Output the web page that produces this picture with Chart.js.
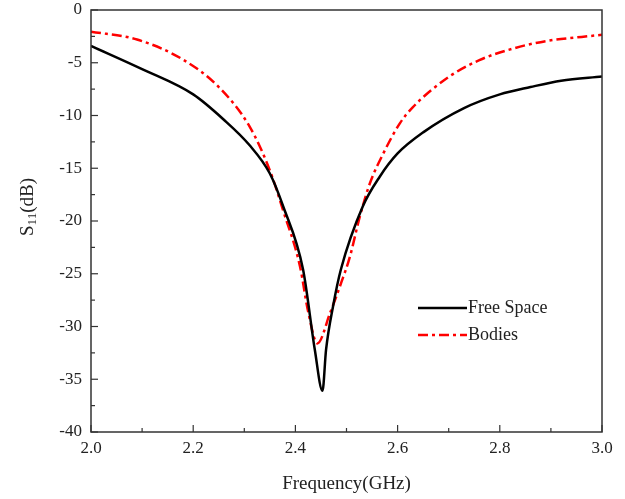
<!DOCTYPE html>
<html>
<head>
<meta charset="utf-8">
<script src="https://cdn.jsdelivr.net/npm/chart.js@4"></script>
<style>
  html, body { margin: 0; padding: 0; background: #fff; }
  #wrap { width: 625px; height: 499px; }
</style>
</head>
<body>
<div id="wrap"><canvas id="myChart" width="625" height="499"></canvas></div>
<script>
// values
const freeFreq = [2.00, 2.10, 2.20, 2.26, 2.31, 2.35, 2.376, 2.415, 2.438, 2.453, 2.46, 2.474, 2.489, 2.532, 2.565, 2.60, 2.65, 2.73, 2.80, 2.86, 2.92, 3.00];
const freeS11  = [-3.4, -5.6, -8.0, -10.4, -12.8, -15.5, -18.6, -24.6, -32.2, -36.1, -32.2, -28.0, -24.6, -18.6, -15.8, -13.6, -11.6, -9.3, -8.0, -7.3, -6.7, -6.3];

const bodyFreq = [2.00, 2.09, 2.18, 2.25, 2.311, 2.35, 2.376, 2.409, 2.425, 2.443, 2.468, 2.49, 2.506, 2.526, 2.546, 2.572, 2.605, 2.63, 2.70, 2.76, 2.83, 2.89, 2.96, 3.00];
const bodyS11  = [-2.05, -2.8, -4.7, -7.3, -11.1, -15.2, -19.0, -24.3, -28.6, -31.6, -28.7, -25.8, -23.5, -19.6, -16.4, -13.6, -10.7, -9.2, -6.35, -4.75, -3.6, -2.95, -2.55, -2.35];

const seriesNames = ['Free Space', 'Bodies'];
const xTicks = [2.0, 2.2, 2.4, 2.6, 2.8, 3.0];
const yTicks = [0, -5, -10, -15, -20, -25, -30, -35, -40];

const serif = '"Liberation Serif", "Times New Roman", serif';
const axisColor = '#333';

function toPoints(xs, ys) {
    return xs.map((x, i) => ({ x: x, y: ys[i] }));
}

// frame, inward ticks, y title with subscript, legend inside the plot
const decorations = {
    id: 'decorations',
    afterDraw(chart) {
        const ctx = chart.ctx;
        const area = chart.chartArea;
        const xs = chart.scales.x;
        const ys = chart.scales.y;
        ctx.save();
        ctx.strokeStyle = axisColor;
        ctx.lineWidth = 1.5;
        ctx.strokeRect(area.left, area.top, area.right - area.left, area.bottom - area.top);

        ctx.lineWidth = 1.2;
        for (let v = 2.0; v <= 3.0001; v += 0.1) {
            const px = xs.getPixelForValue(v);
            const major = Math.abs(v * 5 - Math.round(v * 5)) < 1e-6;
            ctx.beginPath();
            ctx.moveTo(px, area.bottom);
            ctx.lineTo(px, area.bottom - (major ? 7 : 4));
            ctx.stroke();
        }
        for (let v = 0; v >= -40; v -= 2.5) {
            const py = ys.getPixelForValue(v);
            const major = v % 5 === 0;
            ctx.beginPath();
            ctx.moveTo(area.left, py);
            ctx.lineTo(area.left + (major ? 7 : 4), py);
            ctx.stroke();
        }

        // y axis title: S11(dB)
        ctx.fillStyle = '#222';
        ctx.translate(28, (area.top + area.bottom) / 2 - 14);
        ctx.rotate(-Math.PI / 2);
        ctx.textBaseline = 'middle';
        const big = '19px ' + serif;
        const small = '13px ' + serif;
        ctx.font = big;
        const wS = ctx.measureText('S').width;
        const wP = ctx.measureText('(dB)').width;
        ctx.font = small;
        const wSub = ctx.measureText('11').width;
        let x0 = -(wS + wSub + wP) / 2;
        ctx.font = big;
        ctx.fillText('S', x0, 0);
        ctx.font = small;
        ctx.fillText('11', x0 + wS, 5);
        ctx.font = big;
        ctx.fillText('(dB)', x0 + wS + wSub, 0);
        ctx.restore();

        // legend
        ctx.save();
        ctx.font = '18px ' + serif;
        ctx.textBaseline = 'middle';
        ctx.fillStyle = '#222';
        chart.data.datasets.forEach((ds, i) => {
            const ly = 308 + i * 27;
            ctx.strokeStyle = ds.borderColor;
            ctx.lineWidth = ds.borderWidth;
            ctx.setLineDash(ds.borderDash || []);
            ctx.beginPath();
            ctx.moveTo(418, ly);
            ctx.lineTo(467, ly);
            ctx.stroke();
            ctx.setLineDash([]);
            ctx.fillText(ds.label, 468, ly);
        });
        ctx.restore();
    }
};

const ctx = document.getElementById('myChart').getContext('2d');
new Chart(ctx, {
    type: 'line',
    data: {
        datasets: [{
            label: seriesNames[0],
            data: toPoints(freeFreq, freeS11),
            borderColor: '#000000',
            borderWidth: 2.5,
            pointRadius: 0,
            cubicInterpolationMode: 'monotone'
        }, {
            label: seriesNames[1],
            data: toPoints(bodyFreq, bodyS11),
            borderColor: '#ff0000',
            borderWidth: 2.5,
            borderDash: [10, 4, 3, 4],
            pointRadius: 0,
            cubicInterpolationMode: 'monotone'
        }]
    },
    options: {
        responsive: false,
        animation: false,
        layout: { padding: { top: 10, right: 23, bottom: 0, left: 0 } },
        plugins: {
            legend: { display: false },
            tooltip: { enabled: false }
        },
        scales: {
            x: {
                type: 'linear',
                min: 2.0,
                max: 3.0,
                afterFit: s => { s.height = 67; s.paddingLeft = 0; s.paddingRight = 0; },
                afterBuildTicks: s => { s.ticks = xTicks.map(v => ({ value: v })); },
                grid: { display: false, drawTicks: false },
                border: { display: false },
                ticks: {
                    padding: 6,
                    color: '#222',
                    font: { family: serif, size: 17 },
                    callback: v => v.toFixed(1)
                },
                title: {
                    display: true,
                    text: 'Frequency(GHz)',
                    color: '#222',
                    font: { family: serif, size: 19 },
                    padding: { top: 0, bottom: 4 }
                }
            },
            y: {
                type: 'linear',
                min: -40,
                max: 0,
                afterFit: s => { s.width = 91; s.paddingTop = 0; s.paddingBottom = 0; },
                afterBuildTicks: s => { s.ticks = yTicks.map(v => ({ value: v })); },
                grid: { display: false, drawTicks: false },
                border: { display: false },
                ticks: {
                    padding: 9,
                    color: '#222',
                    font: { family: serif, size: 17 }
                }
            }
        }
    },
    plugins: [decorations]
});
</script>
</body>
</html>
